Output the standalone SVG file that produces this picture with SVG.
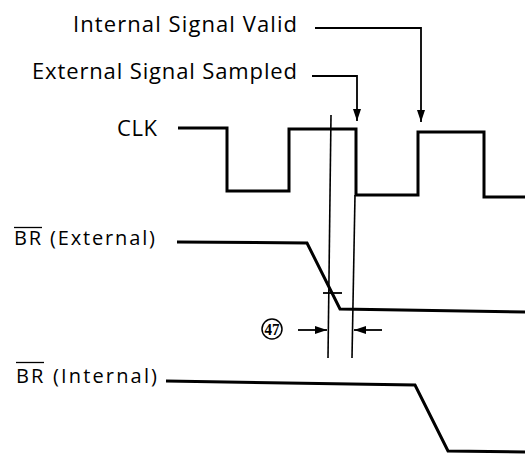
<svg xmlns="http://www.w3.org/2000/svg" width="525" height="456" viewBox="0 0 525 456">
<style>
.lbl{font-family:"Open Sans","Liberation Sans",sans-serif;font-size:22px;fill:#000}
.sig{font-family:"Open Sans","Liberation Sans",sans-serif;font-size:20px;fill:#000}
.wave{fill:none;stroke:#000;stroke-width:3;stroke-linejoin:miter}
.thin{fill:none;stroke:#000;stroke-width:1.6}
.conn{fill:none;stroke:#000;stroke-width:1.8}
.ref{font-family:"Liberation Serif",serif;font-size:16px;font-weight:bold;fill:#000}
</style>
<defs>
<marker id="ah" viewBox="0 0 12 8" refX="12" refY="4" markerWidth="12" markerHeight="8" markerUnits="userSpaceOnUse" orient="auto">
<path d="M0,0 L12,4 L0,8 Z" fill="#000"/>
</marker>
</defs>
<rect width="525" height="456" fill="#fff"/>
<g id="label-internal-valid">
<text class="lbl" x="73" y="32" textLength="224" lengthAdjust="spacing">Internal Signal Valid</text>
</g>
<g id="label-external-sampled">
<text class="lbl" x="32" y="79" textLength="265" lengthAdjust="spacing">External Signal Sampled</text>
</g>
<g id="clk">
<text class="lbl" x="117" y="136" textLength="40" lengthAdjust="spacing">CLK</text>
<path class="wave" d="M178,128 H227 V191 H289 V129 H356 V195 H418 V132 H484 V197 H525"/>
</g>
<g id="br-external">
<text class="sig" x="14" y="245" textLength="141" lengthAdjust="spacing">BR (External)</text>
<line x1="14" y1="227.5" x2="42" y2="227.5" stroke="#000" stroke-width="1.3"/>
<path class="wave" d="M177,242 L307,243 L340,309 L525,312"/>
<line x1="323" y1="293" x2="342" y2="293" stroke="#000" stroke-width="1.8"/>
</g>
<g id="br-internal">
<text class="sig" x="16" y="383" textLength="141" lengthAdjust="spacing">BR (Internal)</text>
<line x1="16" y1="362.5" x2="44" y2="362.5" stroke="#000" stroke-width="1.3"/>
<path class="wave" d="M166,381 L415,385 L448,451 L525,452"/>
</g>
<g id="timing-47">
<circle cx="272" cy="329" r="10" fill="none" stroke="#000" stroke-width="1.5"/>
<text class="ref" x="272" y="334.5" text-anchor="middle" textLength="15" lengthAdjust="spacingAndGlyphs">47</text>
</g>
<g id="connectors">
<path class="conn" d="M315,28 H421 V122" marker-end="url(#ah)"/>
<path class="conn" d="M312,76 H357 V121" marker-end="url(#ah)"/>
<line class="thin" x1="331" y1="115" x2="328" y2="358"/>
<line class="thin" x1="355" y1="195" x2="352" y2="358"/>
<line class="conn" x1="298" y1="330" x2="327" y2="330" marker-end="url(#ah)"/>
<line class="conn" x1="382" y1="330" x2="354" y2="330" marker-end="url(#ah)"/>
</g>
</svg>
